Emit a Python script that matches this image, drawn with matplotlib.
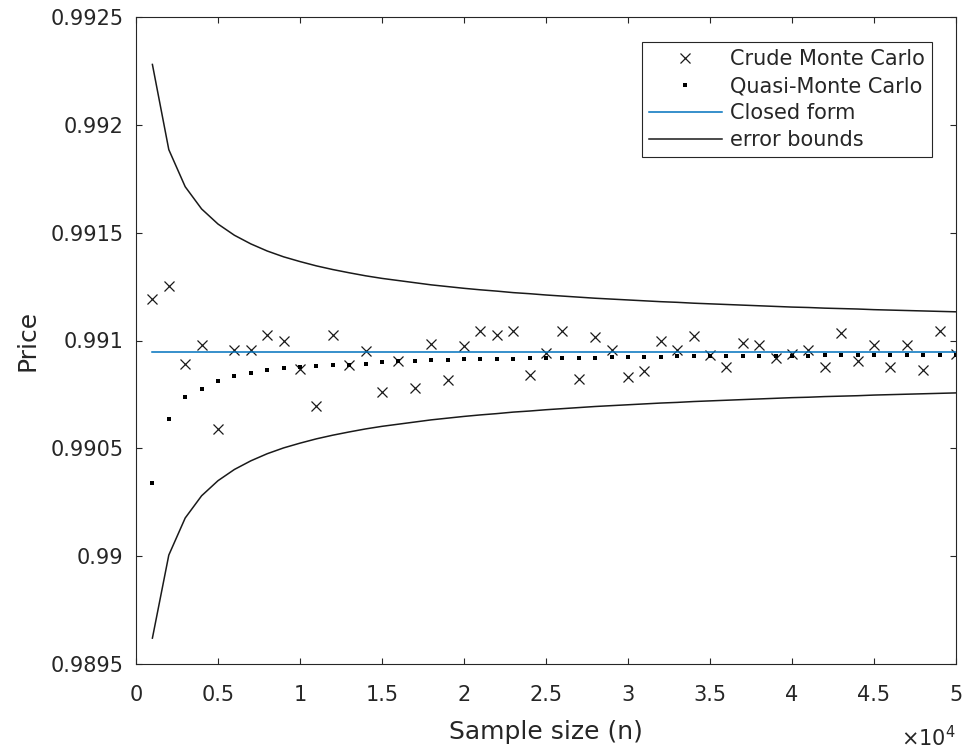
import numpy as np
import matplotlib
matplotlib.use("Agg")
from matplotlib import pyplot as plt

plt.rcParams['font.family'] = ['DejaVu Sans']

# sample sizes n = 1000 ... 50000
n = np.arange(1000, 50001, 1000)

crude_mc = [0.991191, 0.991252, 0.990891, 0.990980, 0.990588, 0.990957, 0.990957, 0.991026, 0.990998, 0.990868,
            0.990695, 0.991026, 0.990888, 0.990949, 0.990760, 0.990905, 0.990780, 0.990983, 0.990816, 0.990973,
            0.991042, 0.991027, 0.991042, 0.990839, 0.990942, 0.991042, 0.990823, 0.991016, 0.990954, 0.990830,
            0.990860, 0.990999, 0.990956, 0.991022, 0.990933, 0.990879, 0.990988, 0.990979, 0.990917, 0.990937,
            0.990957, 0.990879, 0.991037, 0.990907, 0.990979, 0.990879, 0.990979, 0.990863, 0.991045, 0.990937]

quasi_mc = [0.990338, 0.990638, 0.990737, 0.990777, 0.990811, 0.990837, 0.990849, 0.990865, 0.990872, 0.990875,
            0.990882, 0.990885, 0.990888, 0.990891, 0.990898, 0.990903, 0.990906, 0.990908, 0.990910, 0.990912,
            0.990913, 0.990915, 0.990916, 0.990917, 0.990918, 0.990919, 0.990920, 0.990921, 0.990922, 0.990923,
            0.990924, 0.990925, 0.990926, 0.990927, 0.990927, 0.990928, 0.990928, 0.990929, 0.990929, 0.990930,
            0.990930, 0.990931, 0.990931, 0.990932, 0.990932, 0.990932, 0.990933, 0.990933, 0.990933, 0.990934]

closed_form = 0.990945

upper = [0.99228, 0.991885, 0.991713, 0.99161, 0.99154, 0.991488, 0.991448, 0.991415, 0.991388, 0.991366,
         0.991346, 0.991329, 0.991314, 0.991300, 0.991288, 0.991278, 0.991268, 0.991258, 0.99125, 0.991242,
         0.991235, 0.991229, 0.991222, 0.991217, 0.991211, 0.991206, 0.991201, 0.991196, 0.991192, 0.991188,
         0.991184, 0.99118, 0.991177, 0.991173, 0.99117, 0.991167, 0.991164, 0.991161, 0.991158, 0.991155,
         0.991153, 0.99115, 0.991148, 0.991146, 0.991143, 0.991141, 0.991139, 0.991137, 0.991135, 0.991133]

lower = [0.98962, 0.990005, 0.990177, 0.99028, 0.99035, 0.990402, 0.990442, 0.990475, 0.990502, 0.990524,
         0.990544, 0.990561, 0.990576, 0.99059, 0.990602, 0.990612, 0.990622, 0.990632, 0.99064, 0.990648,
         0.990655, 0.990661, 0.990668, 0.990673, 0.990679, 0.990684, 0.990689, 0.990694, 0.990698, 0.990702,
         0.990706, 0.99071, 0.990713, 0.990717, 0.99072, 0.990723, 0.990726, 0.990729, 0.990732, 0.990735,
         0.990737, 0.99074, 0.990742, 0.990744, 0.990747, 0.990749, 0.990751, 0.990753, 0.990755, 0.990757]

xticks = np.arange(0, 50001, 5000)
xticklabels = ['0', '0.5', '1', '1.5', '2', '2.5', '3', '3.5', '4', '4.5', '5']
yticks = [0.9895, 0.99, 0.9905, 0.991, 0.9915, 0.992, 0.9925]
yticklabels = ['0.9895', '0.99', '0.9905', '0.991', '0.9915', '0.992', '0.9925']

dark = '#262626'

fig = plt.figure(figsize=(9.64, 7.51), dpi=100)
ax = fig.add_axes([136/964, 1-664/751, 820/964, 647/751])

ax.plot(n, crude_mc, 'x', color='#1a1a1a', ms=7.5, mew=0.9, label='Crude Monte Carlo')
ax.plot(n, quasi_mc, 's', color='black', ms=2.6, mew=0, label='Quasi-Monte Carlo')
ax.plot([n[0], n[-1]], [closed_form, closed_form], '-', color='#0072BD', lw=1.1, label='Closed form')
ax.plot(n, upper, '-', color='#1a1a1a', lw=1.1, label='error bounds')
ax.plot(n, lower, '-', color='#1a1a1a', lw=1.1)

ax.set_xlim(0, 50000)
ax.set_ylim(0.9895, 0.9925)
ax.set_xticks(xticks)
ax.set_xticklabels(xticklabels)
ax.set_yticks(yticks)
ax.set_yticklabels(yticklabels)

for s in ax.spines.values():
    s.set_color(dark)
    s.set_linewidth(0.8)
ax.tick_params(direction='in', top=True, right=True, length=4.5, width=0.8,
               color=dark, labelcolor=dark, labelsize=15)
ax.tick_params(axis='x', pad=15)
ax.tick_params(axis='y', pad=9)

ax.set_xlabel('Sample size (n)', fontsize=18, color=dark)
ax.xaxis.set_label_coords(0.5, -0.0866)
ax.set_ylabel('Price', fontsize=18, color=dark)
ax.yaxis.set_label_coords(-0.118, 0.5)

ax.text(1.0, -0.113, r'$\times10^{4}$', transform=ax.transAxes, ha='right', va='center',
        fontsize=15, color=dark)

leg = ax.legend(loc='upper right', bbox_to_anchor=(0.9707, 0.9614), borderaxespad=0,
                fontsize=15, frameon=True, fancybox=False, framealpha=1, edgecolor=dark,
                handlelength=3.5, handletextpad=0.38, borderpad=0.35, labelspacing=0.33,
                numpoints=1)
leg.get_frame().set_linewidth(0.8)
for t in leg.get_texts():
    t.set_color(dark)

fig.savefig('out.png', dpi=100, facecolor='white')
